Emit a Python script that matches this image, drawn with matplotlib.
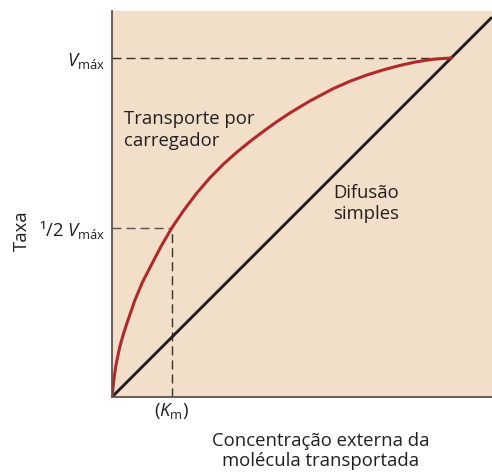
import matplotlib
matplotlib.use("Agg")
import matplotlib.pyplot as plt

# ---- data (arbitrary units) ----
carrier_x = [0, 0.5, 1.0, 2.0, 3.0, 4.0, 6.0, 8.0, 10.5, 13.0, 15.8,
             18.76, 22.29, 25.79, 29.29, 32.82, 36.32, 39.82, 43.34, 46.84,
             52.11, 58.24, 62.63, 67.03, 71.39, 75.79, 80.18, 84.55, 89.4]
carrier_y = [0, 4.5, 8.0, 12.8, 16.3, 19.3, 25.0, 29.7, 34.5, 39.2, 43.9,
             48.2, 52.8, 56.8, 60.3, 63.4, 66.2, 68.8, 71.3, 73.6,
             76.7, 79.9, 81.8, 83.4, 84.75, 85.9, 86.85, 87.5, 87.85]
diffusion_x = [0, 100]
diffusion_y = [0, 98.4]
VMAX = 87.8
KM = 15.8
VMAX_END = 89.4

plt.rcParams["font.family"] = ["Open Sans", "DejaVu Sans"]
plt.rcParams["mathtext.fontset"] = "custom"
plt.rcParams["mathtext.rm"] = "Open Sans"
plt.rcParams["mathtext.it"] = "Open Sans:italic"

BG = "#F2DFC9"
RED = "#B02A2A"
INK = "#231F20"
SPINE = "#5d5250"
FS = 13.3

fig = plt.figure(figsize=(4.92, 4.74), dpi=100)
ax = fig.add_axes([0.2276, 0.1624, 0.7724, 0.8144])
ax.set_facecolor(BG)

dash = (0, (6.5, 3.6))
ax.plot([0, VMAX_END], [VMAX, VMAX], color="#333333", lw=1.0, linestyle=dash)
ax.plot([0, KM], [VMAX / 2, VMAX / 2], color="#555555", lw=1.0, linestyle=dash)
ax.plot([KM, KM], [0, VMAX / 2], color="#333333", lw=1.0, linestyle=dash)

ax.plot(diffusion_x, diffusion_y, color=INK, lw=2.1, solid_capstyle="butt")
ax.plot(carrier_x, carrier_y, color=RED, lw=2.2, solid_capstyle="round",
        solid_joinstyle="round")

ax.set_xlim(0, 100)
ax.set_ylim(0, 100)
for s in ("top", "right"):
    ax.spines[s].set_visible(False)
for s in ("left", "bottom"):
    ax.spines[s].set_color(SPINE)
    ax.spines[s].set_linewidth(1.3)

ax.set_xticks([KM])
ax.set_xticklabels([r"($K_{\mathrm{m}}$)"], fontsize=FS)
ax.set_yticks([VMAX / 2, VMAX])
ax.set_yticklabels([r"¹/2 $V_{\mathrm{máx}}$", r"$V_{\mathrm{máx}}$"], fontsize=FS)
ax.tick_params(axis="y", length=0, pad=5, colors=INK)
ax.tick_params(axis="x", length=0, pad=3, colors=INK)

ax.text(3.2, 70.7, "Transporte por", fontsize=FS, color=INK, va="baseline")
ax.text(3.2, 65.1, "carregador", fontsize=FS, color=INK, va="baseline")
ax.text(58.2, 51.5, "Difusão", fontsize=FS, color=INK, va="baseline")
ax.text(58.2, 46.0, "simples", fontsize=FS, color=INK, va="baseline")

fig.text(0.045, 1 - 231 / 474, "Taxa", rotation=90, fontsize=FS, color=INK,
         ha="center", va="center")
fig.text(321 / 492, 1 - 451 / 474, "Concentração externa da\nmolécula transportada",
         fontsize=FS, color=INK, ha="center", va="center", linespacing=1.15)

fig.savefig("out.png", dpi=100)
